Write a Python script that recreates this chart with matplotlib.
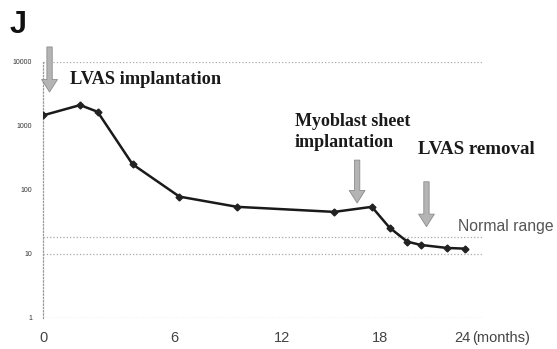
import numpy as np
import matplotlib
matplotlib.use('Agg')
import matplotlib.pyplot as plt

# ---- data ----
months = [0, 1.7, 2.5, 4.1, 6.3, 9.5, 15.2, 17.5, 18.7, 20.0, 21.0, 22.9, 24.2]
values = [1450, 2100, 1650, 250, 78, 54, 45, 54, 25.5, 15.4, 13.7, 12.3, 12.0]
x_ticks = [0, 6, 12, 18, 24]
x_tick_labels = ['0', '6', '12', '18', '24']
y_ticks = [1, 10, 100, 1000, 10000]
y_tick_labels = ['1', '10', '100', '1000', '10000']
normal_range = [10, 18]
frame_lines = [1, 10000]

# event arrows: (arrow month, arrow tip value, arrow tail value)
arrows = [(0.3, 3360, 17000), (16.6, 62, 290), (21.4, 26.5, 133)]

# ---- uneven month axis (the original category axis spacing) ----
scale_months = [0, 6, 12, 18, 24, 30]
scale_pos = [0, 131, 239, 337, 419, 501]

def fwd(m):
    return np.interp(m, scale_months, scale_pos)

def inv(u):
    return np.interp(u, scale_pos, scale_months)

W, H = 557, 349
fig = plt.figure(figsize=(W / 100, H / 100), dpi=100)
ax = fig.add_axes([43 / W, 1 - 317.7 / H, 440 / W, 256 / H])
ax.set_xscale('function', functions=(fwd, inv))
ax.set_yscale('log')
ax.set_xlim(0, inv(440))
ax.set_ylim(1, 10000)

for s in ['top', 'right', 'bottom']:
    ax.spines[s].set_visible(False)
ax.spines['left'].set_linestyle(':')
ax.spines['left'].set_color('#9a9a9a')
ax.spines['left'].set_linewidth(0.9)

for v in frame_lines + normal_range:
    ax.axhline(v, color='#a8a8a8', lw=0.9, ls=':', zorder=1)

ax.plot(months, values, color='#1a1a1a', lw=1.8, marker='D', ms=3.5,
        mfc='#222222', mec='#222222', zorder=3)

ax.set_xticks(x_ticks)
ax.set_xticklabels(x_tick_labels, fontsize=10.5, color='#444444',
                   family='Liberation Sans')
ax.set_yticks(y_ticks)
ax.set_yticklabels(y_tick_labels, fontsize=5, color='#333333',
                   family='Liberation Sans')
ax.yaxis.set_minor_locator(matplotlib.ticker.NullLocator())
ax.tick_params(axis='x', length=0, pad=9.5)
ax.tick_params(axis='y', length=0, pad=8)

ax.annotate('(months)', xy=(24, 0), xycoords=('data', 'axes fraction'),
            xytext=(7.5, -9.5), textcoords='offset points', ha='left', va='top',
            fontsize=10.5, color='#444444', family='Liberation Sans',
            annotation_clip=False)

for xm, tip, tail in arrows:
    ax.annotate('', xy=(xm, tip), xytext=(xm, tail),
                arrowprops=dict(arrowstyle='simple,head_width=0.95,head_length=0.75,tail_width=0.32',
                                fc='#b4b4b4', ec='#8c8c8c', lw=0.6,
                                mutation_scale=12, shrinkA=0, shrinkB=0),
                annotation_clip=False, zorder=4)

serif = dict(family='Liberation Serif', fontweight='bold', color='#1a1a1a')
fig.text(70 / W, 1 - 80 / H, 'LVAS implantation', ha='left', va='center',
         fontsize=13.2, **serif)
fig.text(295 / W, 1 - 121.7 / H, 'Myoblast sheet', ha='left', va='center',
         fontsize=13, **serif)
fig.text(295 / W, 1 - 142.7 / H, 'implantation', ha='left', va='center',
         fontsize=13, **serif)
fig.text(418 / W, 1 - 150 / H, 'LVAS removal', ha='left', va='center',
         fontsize=13.6, **serif)
fig.text(458 / W, 1 - 226.7 / H, 'Normal range', ha='left', va='center',
         fontsize=11.3, color='#555555', family='Liberation Sans')
fig.text(10 / W, 1 - 25 / H, 'J', ha='left', va='center', fontsize=22,
         fontweight='bold', family='Liberation Sans', color='#111111')

fig.savefig('out.png', dpi=100)
